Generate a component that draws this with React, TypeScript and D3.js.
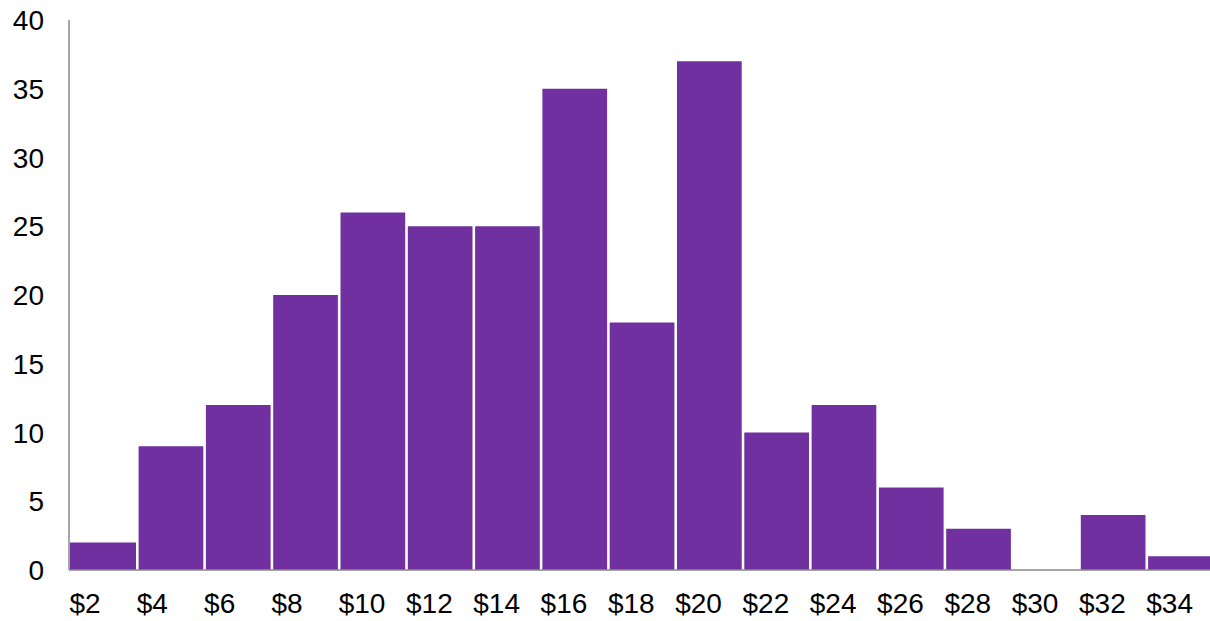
import { useMemo } from "react";
import * as d3 from "d3";

const WIDTH = 1210;
const HEIGHT = 621;
const MARGIN = { top: 20, bottom: 51, left: 70 };
const STEP = 67.3;

const BINS = ["$2", "$4", "$6", "$8", "$10", "$12", "$14", "$16", "$18", "$20", "$22", "$24", "$26", "$28", "$30", "$32", "$34"];
const COUNTS = [2, 9, 12, 20, 26, 25, 25, 35, 18, 37, 10, 12, 6, 3, 0, 4, 1];
const Y_TICKS = [0, 5, 10, 15, 20, 25, 30, 35, 40];

const BAR_COLOR = "#7030A0";
const AXIS_COLOR = "#898989";
const FONT = "'Liberation Sans', Arial, sans-serif";

export default function App() {
  // last bin runs past the right edge, as in the original
  const x = useMemo(
    () =>
      d3
        .scaleBand()
        .domain(BINS)
        .range([MARGIN.left, MARGIN.left + STEP * BINS.length])
        .padding(0),
    []
  );

  const y = useMemo(
    () =>
      d3
        .scaleLinear()
        .domain([0, 40])
        .range([HEIGHT - MARGIN.bottom, MARGIN.top]),
    []
  );

  const baseY = y(0);
  const gap = 2.6;

  return (
    <svg
      width={WIDTH}
      height={HEIGHT}
      style={{ position: "absolute", left: 0, top: 0, background: "#fff" }}
      fontFamily={FONT}
    >
      {COUNTS.map((c, i) =>
        c > 0 ? (
          <rect
            key={BINS[i]}
            x={(x(BINS[i]) ?? 0) + (i === 0 ? 0 : gap / 2)}
            y={y(c)}
            width={x.bandwidth() - (i === 0 ? gap / 2 : gap)}
            height={baseY - y(c)}
            fill={BAR_COLOR}
          />
        ) : null
      )}

      <line x1={MARGIN.left - 1} x2={WIDTH} y1={baseY} y2={baseY} stroke={AXIS_COLOR} strokeWidth={1.5} />
      <line x1={MARGIN.left - 1} x2={MARGIN.left - 1} y1={MARGIN.top} y2={baseY} stroke={AXIS_COLOR} strokeWidth={1.5} />

      {Y_TICKS.map((t) => (
        <text key={t} x={44} y={y(t)} dy="0.36em" textAnchor="end" fontSize={28} fill="#000">
          {t}
        </text>
      ))}

      {BINS.map((b) => (
        <text key={b} x={(x(b) ?? 0) - 0.5} y={613} textAnchor="start" fontSize={28} fill="#000">
          {b}
        </text>
      ))}
    </svg>
  );
}
